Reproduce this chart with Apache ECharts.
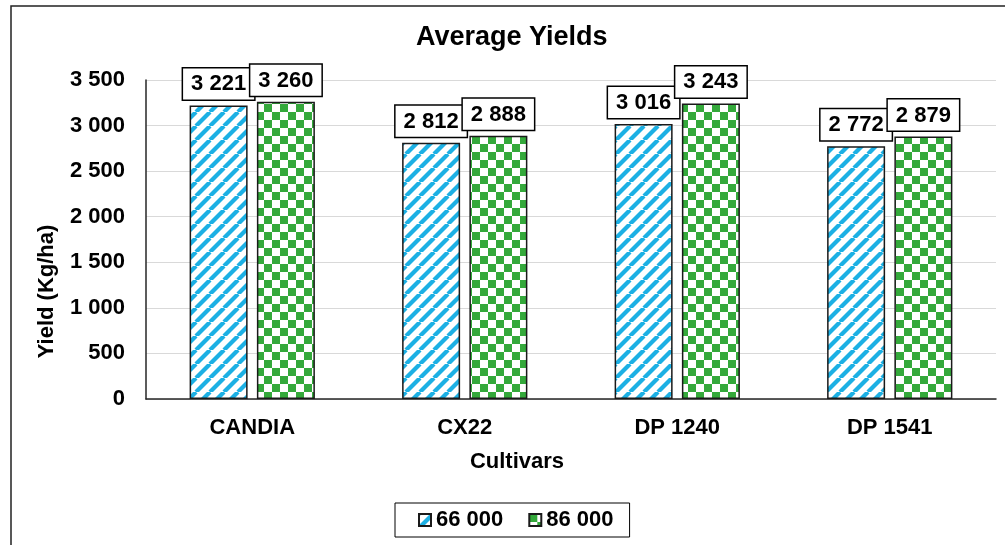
<!DOCTYPE html>
<html>
<head>
<meta charset="utf-8">
<script src="https://cdn.jsdelivr.net/npm/echarts@6/dist/echarts.min.js"></script>
<style>
html,body{margin:0;padding:0;background:#fff;}
#chart{width:1005px;height:545px;}
</style>
</head>
<body>
<div id="chart"></div>
<script>
const categories = ['CANDIA', 'CX22', 'DP 1240', 'DP 1541'];
const seriesNames = ['66 000', '86 000'];
const values66 = [3221, 2812, 3016, 2772];
const values86 = [3260, 2888, 3243, 2879];
const yTicks = { min: 0, max: 3500, interval: 500 };

function fmt(v) {
  return String(v).replace(/\B(?=(\d{3})+(?!\d))/g, ' ');
}

function stripePattern() {
  const P = 14;
  const c = document.createElement('canvas');
  c.width = P; c.height = P;
  const ctx = c.getContext('2d');
  ctx.fillStyle = '#fff';
  ctx.fillRect(0, 0, P, P);
  ctx.strokeStyle = '#1cb0e4';
  ctx.lineWidth = 4.2;
  for (let k = -1; k <= 1; k++) {
    ctx.beginPath();
    ctx.moveTo(k * P, P);
    ctx.lineTo(k * P + P, 0);
    ctx.stroke();
  }
  return c;
}
function checkerPattern() {
  const S = 8;
  const c = document.createElement('canvas');
  c.width = 2 * S; c.height = 2 * S;
  const ctx = c.getContext('2d');
  ctx.fillStyle = '#fff';
  ctx.fillRect(0, 0, 2 * S, 2 * S);
  ctx.fillStyle = '#34a93b';
  ctx.fillRect(0, 0, S, S);
  ctx.fillRect(S, S, S, S);
  return c;
}

const FONT = "'Liberation Sans', Arial, sans-serif";
const labelCfg = {
  show: true,
  position: 'top',
  distance: 6,
  formatter: p => fmt(p.value),
  color: '#000',
  fontFamily: FONT,
  fontWeight: 'bold',
  fontSize: 22,
  backgroundColor: '#fff',
  borderColor: '#000',
  borderWidth: 1.5,
  padding: [5, 8, 4, 8]
};

const chart = echarts.init(document.getElementById('chart'), null, { renderer: 'canvas' });
chart.setOption({
  animation: false,
  backgroundColor: '#fff',
  textStyle: { fontFamily: FONT },
  title: {
    text: 'Average Yields',
    left: 416,
    top: 24,
    padding: 0,
    textStyle: { fontFamily: FONT, fontWeight: 'bold', fontSize: 27, color: '#000' }
  },
  graphic: [{
    type: 'rect',
    shape: { x: 11, y: 6, width: 1100, height: 700 },
    style: { fill: 'none', stroke: '#222', lineWidth: 1.5 },
    silent: true,
    z: -1
  }],
  legend: {
    left: 395,
    top: 503,
    orient: 'horizontal',
    data: seriesNames,
    icon: 'rect',
    itemWidth: 12,
    itemHeight: 12,
    itemGap: 25,
    borderColor: '#000',
    borderWidth: 1,
    padding: [6, 16, 6, 23],
    textStyle: { fontFamily: FONT, fontWeight: 'bold', fontSize: 22, color: '#000' }
  },
  grid: { left: 146, right: 9, top: 80, bottom: 146, containLabel: false },
  xAxis: {
    type: 'category',
    data: categories,
    name: 'Cultivars',
    nameLocation: 'middle',
    nameGap: 52,
    nameTextStyle: { fontFamily: FONT, fontWeight: 'bold', fontSize: 22, color: '#000', padding: [0, 108, 0, 0] },
    axisLine: { lineStyle: { color: '#262626', width: 1.5 } },
    axisTick: { show: false },
    axisLabel: { margin: 18, color: '#000', fontFamily: FONT, fontWeight: 'bold', fontSize: 22 }
  },
  yAxis: {
    type: 'value',
    min: yTicks.min,
    max: yTicks.max,
    interval: yTicks.interval,
    name: 'Yield (Kg/ha)',
    nameLocation: 'middle',
    nameGap: 88,
    nameRotate: 90,
    nameTextStyle: { fontFamily: FONT, fontWeight: 'bold', fontSize: 22, color: '#000', padding: [0, 104, 0, 0] },
    axisLine: { show: true, lineStyle: { color: '#262626', width: 1.5 } },
    axisTick: { show: false },
    splitLine: { lineStyle: { color: '#d9d9d9', width: 1 } },
    axisLabel: { margin: 21, color: '#000', fontFamily: FONT, fontWeight: 'bold', fontSize: 22, formatter: v => fmt(v) }
  },
  series: [
    {
      name: seriesNames[0],
      type: 'bar',
      data: values66,
      barWidth: 58,
      barGap: '16%',
      itemStyle: { color: { image: stripePattern(), repeat: 'repeat' }, borderColor: '#1a1a1a', borderWidth: 1.5 },
      label: labelCfg
    },
    {
      name: seriesNames[1],
      type: 'bar',
      data: values86,
      barWidth: 58,
      barGap: '16%',
      itemStyle: { color: { image: checkerPattern(), repeat: 'repeat' }, borderColor: '#1a1a1a', borderWidth: 1.5 },
      label: labelCfg
    }
  ]
});
</script>
</body>
</html>
